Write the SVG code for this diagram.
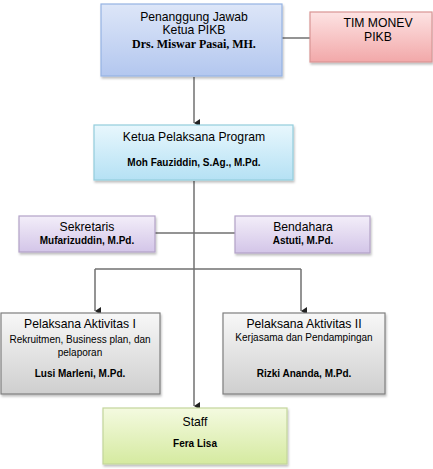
<svg xmlns="http://www.w3.org/2000/svg" width="433" height="469" viewBox="0 0 433 469">
<style>
text{font-family:"Liberation Sans",Arial,sans-serif;fill:#000;text-anchor:middle}
.t{font-size:12.2px}
.s{font-size:10px}
.b{font-size:10px;font-weight:bold}
.tm{font-family:"Liberation Serif","Times New Roman",serif;font-size:12px;font-weight:bold}
.ln{stroke:#707070;stroke-width:1.5;fill:none}
.box{stroke-width:1.2;filter:url(#sh)}
</style>
<defs>
<filter id="sh" x="-10%" y="-10%" width="120%" height="130%">
<feDropShadow dx="1" dy="2" stdDeviation="1" flood-color="#000" flood-opacity="0.25"/>
</filter>
<linearGradient id="gBlue" x1="0" y1="0" x2="0" y2="1"><stop offset="0" stop-color="#dde6f8"/><stop offset="1" stop-color="#b3c7ef"/></linearGradient>
<linearGradient id="gPink" x1="0" y1="0" x2="0" y2="1"><stop offset="0" stop-color="#fde3e3"/><stop offset="1" stop-color="#f2a8a9"/></linearGradient>
<linearGradient id="gCyan" x1="0" y1="0" x2="0" y2="1"><stop offset="0" stop-color="#e8f7fd"/><stop offset="1" stop-color="#b5e1f4"/></linearGradient>
<linearGradient id="gLav" x1="0" y1="0" x2="0" y2="1"><stop offset="0" stop-color="#f3eef9"/><stop offset="1" stop-color="#d3c5e8"/></linearGradient>
<linearGradient id="gGray" x1="0" y1="0" x2="0" y2="1"><stop offset="0" stop-color="#f7f7f7"/><stop offset="1" stop-color="#cfcfcf"/></linearGradient>
<linearGradient id="gGreen" x1="0" y1="0" x2="0" y2="1"><stop offset="0" stop-color="#f4fae0"/><stop offset="1" stop-color="#d5eaa0"/></linearGradient>
<marker id="ar" markerWidth="8" markerHeight="8" refX="4" refY="6" orient="auto" markerUnits="userSpaceOnUse" viewBox="0 0 8 8">
<path d="M0,0 L8,0 L4,6 Z" fill="#222"/>
</marker>
</defs>

<g id="connectors">
<line class="ln" x1="194" y1="77" x2="194" y2="123" marker-end="url(#ar)"/>
<line class="ln" x1="282" y1="38" x2="310" y2="38"/>
<line class="ln" x1="194" y1="181" x2="194" y2="406" marker-end="url(#ar)"/>
<line class="ln" x1="155" y1="233" x2="235" y2="233"/>
<line class="ln" x1="95" y1="269" x2="301" y2="269"/>
<line class="ln" x1="95" y1="269" x2="95" y2="311" marker-end="url(#ar)"/>
<line class="ln" x1="301" y1="269" x2="301" y2="311" marker-end="url(#ar)"/>
</g>

<g id="penanggung-jawab">
<rect class="box" x="101" y="4" width="181" height="72" fill="url(#gBlue)" stroke="#95b3e3"/>
<text class="t" x="194" y="21">Penanggung Jawab</text>
<text class="t" x="194" y="34">Ketua PIKB</text>
<text class="tm" x="194" y="48">Drs. Miswar Pasai, MH.</text>
</g>

<g id="tim-monev">
<rect class="box" x="310" y="12" width="122" height="50" fill="url(#gPink)" stroke="#d99594"/>
<text class="t" x="378" y="27">TIM MONEV</text>
<text class="t" x="378" y="41">PIKB</text>
</g>

<g id="ketua-pelaksana">
<rect class="box" x="94" y="125" width="199" height="55" fill="url(#gCyan)" stroke="#93cddd"/>
<text class="t" x="194" y="141">Ketua Pelaksana Program</text>
<text class="b" x="194" y="166">Moh Fauziddin, S.Ag., M.Pd.</text>
</g>

<g id="sekretaris">
<rect class="box" x="19" y="216" width="136" height="36" fill="url(#gLav)" stroke="#b3a2c7"/>
<text class="t" x="87" y="231">Sekretaris</text>
<text class="b" x="87" y="244">Mufarizuddin, M.Pd.</text>
</g>

<g id="bendahara">
<rect class="box" x="235" y="216" width="135" height="37" fill="url(#gLav)" stroke="#b3a2c7"/>
<text class="t" x="303" y="231">Bendahara</text>
<text class="b" x="303" y="244">Astuti, M.Pd.</text>
</g>

<g id="pelaksana-1">
<rect class="box" x="1" y="313" width="159" height="81" fill="url(#gGray)" stroke="#7f7f7f"/>
<text class="t" x="80" y="328">Pelaksana Aktivitas I</text>
<text class="s" x="80" y="343">Rekruitmen, Business plan, dan</text>
<text class="s" x="80" y="356">pelaporan</text>
<text class="b" x="80" y="377">Lusi Marleni, M.Pd.</text>
</g>

<g id="pelaksana-2">
<rect class="box" x="223" y="313" width="162" height="81" fill="url(#gGray)" stroke="#7f7f7f"/>
<text class="t" x="304" y="328">Pelaksana Aktivitas II</text>
<text class="s" x="304" y="341">Kerjasama dan Pendampingan</text>
<text class="b" x="304" y="377">Rizki Ananda, M.Pd.</text>
</g>

<g id="staff">
<rect class="box" x="103" y="408" width="184" height="56" fill="url(#gGreen)" stroke="#c3d69b"/>
<text class="t" x="195" y="426">Staff</text>
<text class="b" x="195" y="447">Fera Lisa</text>
</g>
</svg>
